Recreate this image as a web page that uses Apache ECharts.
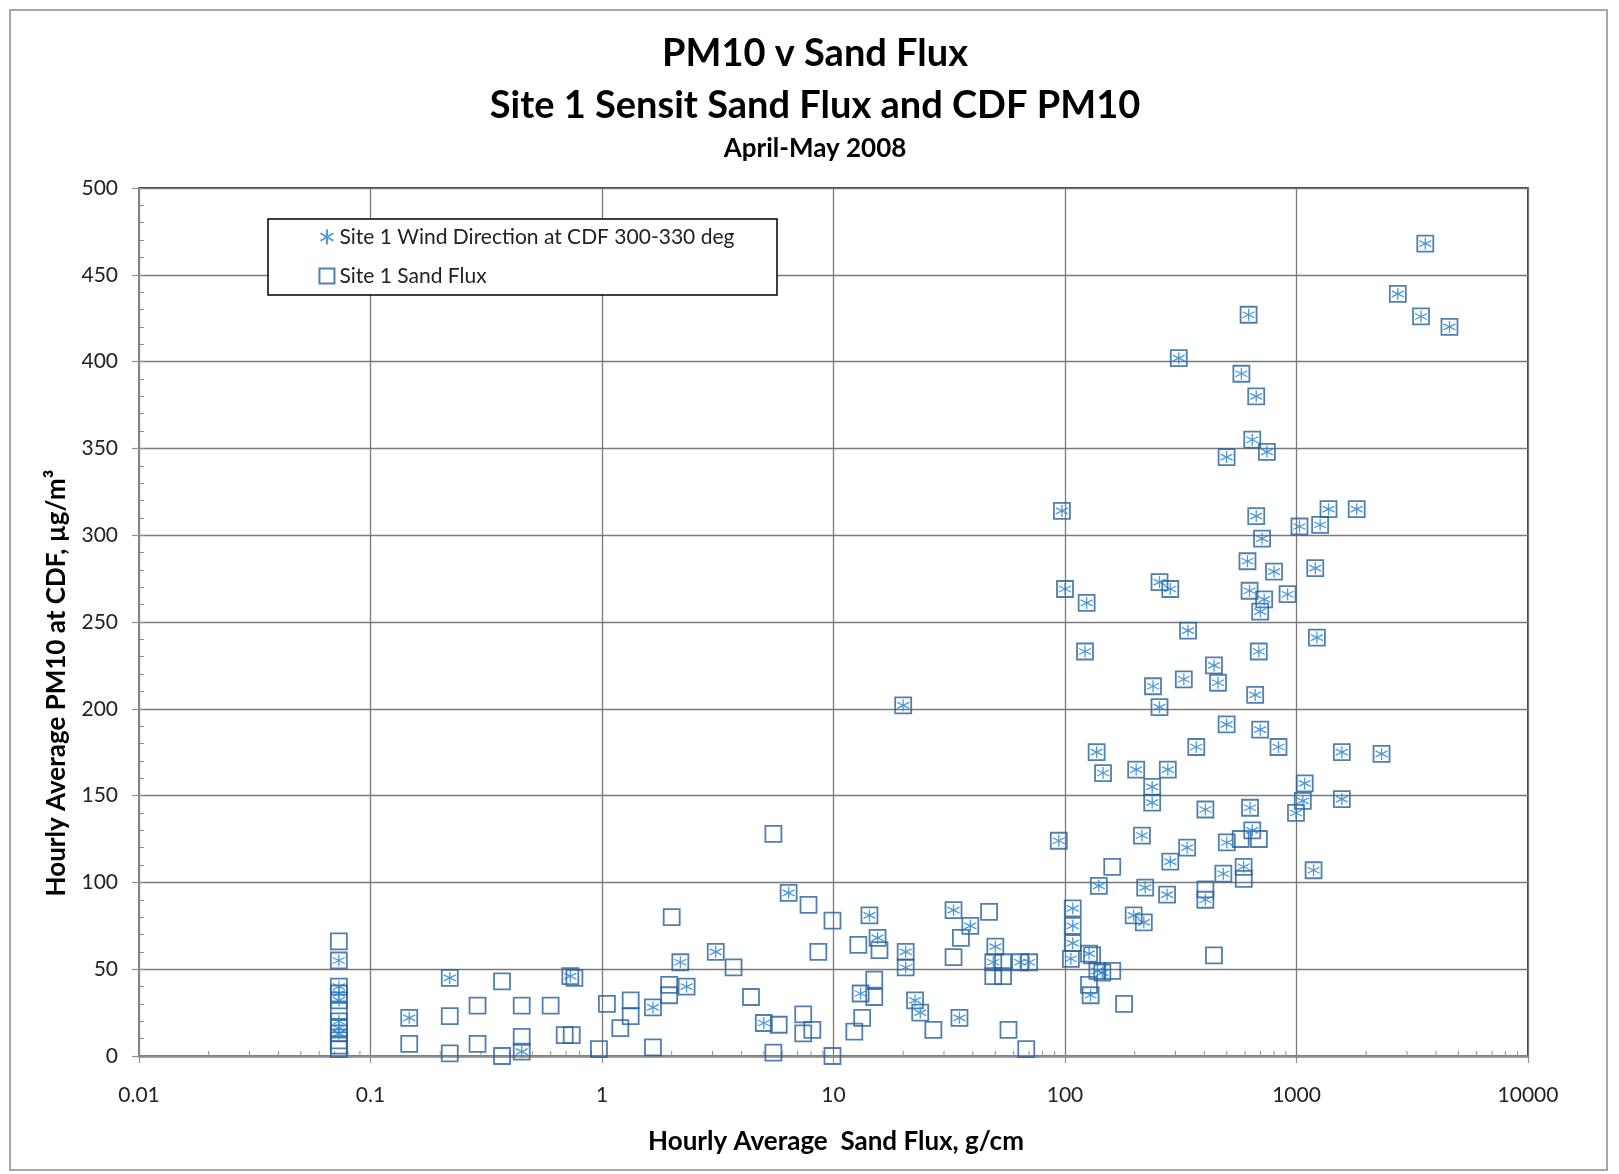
<!DOCTYPE html>
<html>
<head>
<meta charset="utf-8">
<script src="https://cdn.jsdelivr.net/npm/echarts@6/dist/echarts.min.js"></script>
<style>
html,body{margin:0;padding:0;background:#fff;}
#chart{width:1619px;height:1174px;}
</style>
</head>
<body>
<div id="chart"></div>
<script>
// Points marked with the wind-direction asterisk (also carry a sand-flux square)
const windFlux = [0.073,0.073,0.073,0.073,0.073,0.073,0.073,0.147,0.22,0.45,0.73,1.66,2.18,2.32,3.1,5.0,6.4,
  14.3,15.5,13.1,20,20.5,20.5,22.5,23.7,35,33,39,50,49,64,70,94,97,100,108,108,108,106,122,124,127,138,145,129,
  137,146,140,198,219,215,222,203,240,256,256,285,238,238,276,285,337,278,310,326,340,369,404,404,440,458,483,
  499,499,500,578,591,614,621,627,630,644,644,663,670,670,687,697,697,710,725,745,800,836,915,995,1030,1065,1085,
  1185,1205,1225,1265,1375,1570,1570,1820,2330,2740,3450,3600,4580];
const windPM = [55,40,36,32,20,16,13,22,45,2.5,46,28,54,40,60,19,94,
  81,68,36,202,60,51,32,25,22,84,75,63,54,54,54,124,314,269,85,75,65,56,233,261,59,49,48,35,
  175,163,98,81,77,127,97,165,213,201,273,269,155,146,93,112,120,165,402,217,245,178,142,90,225,215,105,
  191,345,123,393,109,285,427,268,143,130,355,208,311,380,233,256,188,298,263,348,279,178,266,140,305,147,157,
  107,281,241,306,315,175,148,315,174,439,426,468,420];
// Points with the sand-flux square only
const squareFlux = [0.073,0.073,0.073,0.073,0.073,0.147,0.22,0.22,0.29,0.29,0.37,0.37,0.45,0.45,0.60,0.69,0.74,0.76,
  0.97,1.05,1.2,1.33,1.33,1.66,1.95,1.95,2.0,3.7,4.4,5.8,5.5,5.5,7.8,7.4,7.4,8.1,8.6,9.9,9.9,12.3,13.3,12.8,15.8,
  15,15,27,33,35.5,47,54,49,54,57,68,131,160,127,160,180,404,440,574,592,688];
const squarePM = [66,26,9,6,4,7,23,1.5,29,7,43,0,29,11,29,12,12,45,
  4,30,16,32,23,5,41,35,80,51,34,18,128,2,87,24,13,15,60,78,0,14,22,64,61,
  44,34,15,57,68,83,54,46,46,15,4,58,49,41,109,30,96,58,125,102,125];
// Minor tick positions of the logarithmic x axis
const xMinorTicks = [0.02,0.03,0.04,0.05,0.06,0.07,0.08,0.09,0.2,0.3,0.4,0.5,0.6,0.7,0.8,0.9,
  2,3,4,5,6,7,8,9,20,30,40,50,60,70,80,90,200,300,400,500,600,700,800,900,
  2000,3000,4000,5000,6000,7000,8000,9000];

const FONT = 'Lato';
const sandData = windFlux.map((x,i)=>[x, windPM[i]]).concat(squareFlux.map((x,i)=>[x, squarePM[i]]));
const windData = windFlux.map((x,i)=>[x, windPM[i]]);
const asterisk = 'path://M5 0L5 10M0.7 2.5L9.3 7.5M0.7 7.5L9.3 2.5';

const chart = echarts.init(document.getElementById('chart'), null, {renderer:'canvas'});
chart.setOption({
  backgroundColor:'#fff',
  animation:false,
  grid:{left:139,right:91,top:188,bottom:118,show:true,borderColor:'#000',borderWidth:1.5,backgroundColor:'transparent'},
  xAxis:[{
    type:'log', logBase:10, min:0.01, max:10000,
    axisLine:{show:true,onZero:false,lineStyle:{color:'#8f8f8f',width:2.5}},
    axisTick:{show:true,length:7,lineStyle:{color:'#8f8f8f',width:1.2}},
    axisLabel:{margin:29,fontFamily:FONT,fontSize:21,color:'#222',
      formatter:v=>String(+(+v).toPrecision(6))},
    splitLine:{show:true,lineStyle:{color:'#7a7a7a',width:1.3}},
    minorTick:{show:false}
  }],
  yAxis:[{
    type:'value', min:0, max:500, interval:50,
    axisLine:{show:true,lineStyle:{color:'#8f8f8f',width:1.5}},
    axisTick:{show:true,length:7,lineStyle:{color:'#8f8f8f',width:1.2}},
    axisLabel:{margin:21,fontFamily:FONT,fontSize:21,color:'#222'},
    splitLine:{show:true,lineStyle:{color:'#7a7a7a',width:1.3}}
  },{
    type:'value', min:0, max:500, interval:10, position:'left',
    axisLine:{show:false},
    axisTick:{show:true,inside:true,length:5,lineStyle:{color:'#8f8f8f',width:1}},
    axisLabel:{show:false}, splitLine:{show:false}
  }],
  legend:{
    orient:'vertical', left:318, top:226, padding:0, itemGap:17,
    itemWidth:15, itemHeight:15,
    data:['Site 1 Wind Direction at CDF 300-330 deg','Site 1 Sand Flux'],
    textStyle:{fontFamily:FONT,fontSize:21,color:'#222',lineHeight:22}
  },
  graphic:[
    {type:'rect',shape:{x:10,y:10,width:1597,height:1160},style:{fill:'none',stroke:'#8c8c8c',lineWidth:1.5},silent:true,z:-10},
    {type:'rect',shape:{x:268,y:219,width:509,height:76},style:{fill:'#fff',stroke:'#000',lineWidth:1.5},silent:true,z:1},
    {type:'text',x:815,y:54,style:{text:'PM10 v Sand Flux',font:'bold 38px '+FONT,fill:'#000',textAlign:'center',textVerticalAlign:'middle'}},
    {type:'text',x:815,y:106,style:{text:'Site 1 Sensit Sand Flux and CDF PM10',font:'bold 38px '+FONT,fill:'#000',textAlign:'center',textVerticalAlign:'middle'}},
    {type:'text',x:815,y:149,style:{text:'April-May 2008',font:'bold 26px '+FONT,fill:'#000',textAlign:'center',textVerticalAlign:'middle'}},
    {type:'text',x:836,y:1142,style:{text:'Hourly Average  Sand Flux, g/cm',font:'bold 26px '+FONT,fill:'#000',textAlign:'center',textVerticalAlign:'middle'}},
    {type:'text',x:57,y:683,rotation:Math.PI/2,style:{text:'Hourly Average PM10 at CDF, µg/m³',font:'bold 26px '+FONT,fill:'#000',textAlign:'center',textVerticalAlign:'middle'}}
  ],
  series:[
    {
      name:'Site 1 Sand Flux', type:'scatter', data:sandData,
      symbol:'rect', symbolSize:16,
      itemStyle:{color:'rgba(255,255,255,0)',borderColor:'#245f9c',borderWidth:1.8},
      z:3
    },
    {
      name:'Site 1 Wind Direction at CDF 300-330 deg', type:'scatter', data:windData,
      symbol:asterisk, symbolSize:12,
      itemStyle:{color:'none',borderColor:'#1f7fd0',borderWidth:1.3},
      z:4
    },
    {
      type:'custom', silent:true, xAxisIndex:0, yAxisIndex:0,
      data:xMinorTicks.map(v=>[v,0]),
      renderItem:(params,api)=>{
        const p = api.coord([api.value(0), 0]);
        return {type:'line',shape:{x1:p[0],y1:p[1],x2:p[0],y2:p[1]-5},style:{stroke:'#8f8f8f',lineWidth:1}};
      },
      z:2
    }
  ]
});
</script>
</body>
</html>
